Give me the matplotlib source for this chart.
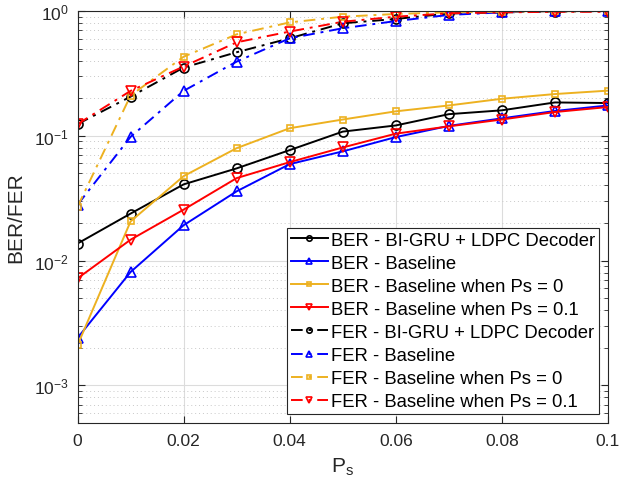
import matplotlib
matplotlib.use("Agg")
import matplotlib.pyplot as plt
from matplotlib.ticker import LogLocator, FixedLocator, NullFormatter
import numpy as np

plt.rcParams['font.family'] = ['Liberation Sans', 'DejaVu Sans']
plt.rcParams['mathtext.fontset'] = 'custom'
plt.rcParams['mathtext.rm'] = 'Liberation Sans'
plt.rcParams['mathtext.it'] = 'Liberation Sans:italic'

ps = [0, 0.01, 0.02, 0.03, 0.04, 0.05, 0.06, 0.07, 0.08, 0.09, 0.1]

ber_bigru = [0.0137, 0.0238, 0.0408, 0.0548, 0.0768, 0.108, 0.121, 0.149, 0.160, 0.185, 0.183]
ber_base = [0.0024, 0.0081, 0.0192, 0.0359, 0.0593, 0.075, 0.0976, 0.120, 0.138, 0.158, 0.175]
ber_ps0 = [0.0021, 0.0206, 0.0475, 0.0796, 0.115, 0.135, 0.157, 0.175, 0.198, 0.216, 0.230]
ber_ps01 = [0.0072, 0.0147, 0.0256, 0.0458, 0.0615, 0.0806, 0.104, 0.119, 0.135, 0.155, 0.170]

fer_bigru = [0.124, 0.206, 0.352, 0.467, 0.604, 0.797, 0.863, 0.955, 0.975, 0.99, 1.0]
fer_base = [0.028, 0.098, 0.229, 0.393, 0.604, 0.727, 0.83, 0.93, 0.975, 1.0, 1.0]
fer_ps0 = [0.027, 0.21, 0.43, 0.65, 0.81, 0.90, 0.946, 0.975, 0.985, 0.995, 1.0]
fer_ps01 = [0.124, 0.229, 0.359, 0.561, 0.684, 0.82, 0.90, 0.958, 0.975, 0.985, 0.985]

labels = ["BER - BI-GRU + LDPC Decoder", "BER - Baseline",
          "BER - Baseline when Ps = 0", "BER - Baseline when Ps = 0.1",
          "FER - BI-GRU + LDPC Decoder", "FER - Baseline",
          "FER - Baseline when Ps = 0", "FER - Baseline when Ps = 0.1"]

colors = ['black', '#0000FF', '#EDB120', '#FF0000']
markers = ['o', '^', 's', 'v']
msizes = [6.5, 7, 4.5, 7]

fig = plt.figure(figsize=(6.36, 4.89), dpi=100)
ax = fig.add_axes([0.1219, 0.133, 0.834, 0.8425])

dashdot = (0, (6, 3, 1.5, 3))
series = [ber_bigru, ber_base, ber_ps0, ber_ps01, fer_bigru, fer_base, fer_ps0, fer_ps01]
for k, ys in enumerate(series):
    c = colors[k % 4]
    ls = '-' if k < 4 else dashdot
    ax.plot(ps, ys, linestyle=ls, color=c, marker=markers[k % 4], ms=msizes[k % 4],
            mfc='none', mec=c, mew=1.2, lw=1.4, label=labels[k])

ax.set_yscale('log')
ax.set_xlim(0, 0.1)
ax.set_ylim(5e-4, 1)
ax.set_xticks([0, 0.02, 0.04, 0.06, 0.08, 0.1])
ax.set_xticklabels(['0', '0.02', '0.04', '0.06', '0.08', '0.1'])
ax.yaxis.set_major_locator(FixedLocator([1e-3, 1e-2, 1e-1, 1]))
ax.yaxis.set_minor_locator(LogLocator(base=10, subs=np.arange(2, 10), numticks=20))
ax.yaxis.set_minor_formatter(NullFormatter())

ax.grid(True, which='major', color='#dcdcdc', linestyle='-', linewidth=0.8)
ax.grid(True, which='minor', axis='y', color='#c8c8c8', linestyle=(0, (1, 3)), linewidth=0.7)
ax.set_axisbelow(True)

ax.tick_params(which='both', direction='in', top=True, right=True, labelsize=12.5,
               colors='#262626', labelcolor='#262626')
ax.tick_params(which='major', length=5)
ax.tick_params(which='minor', length=3)
ax.tick_params(axis='x', which='major', pad=7.5)
ax.tick_params(axis='y', which='major', pad=6.5)
for sp in ax.spines.values():
    sp.set_color('#262626')
    sp.set_linewidth(0.8)

ax.set_xlabel(r'P$_\mathregular{s}$', fontsize=15, color='#262626', labelpad=5)
ax.set_ylabel('BER/FER', fontsize=15, color='#262626', labelpad=6)

leg = ax.legend(loc='lower right', bbox_to_anchor=(0.983, 0.022), fontsize=13.3,
                frameon=True, fancybox=False, edgecolor='#262626', framealpha=1,
                handlelength=2.0, handletextpad=0.18, borderpad=0.2,
                labelspacing=0.33, borderaxespad=0.0, markerscale=0.6)
leg.get_frame().set_linewidth(0.8)

fig.savefig('out.png', dpi=100)
